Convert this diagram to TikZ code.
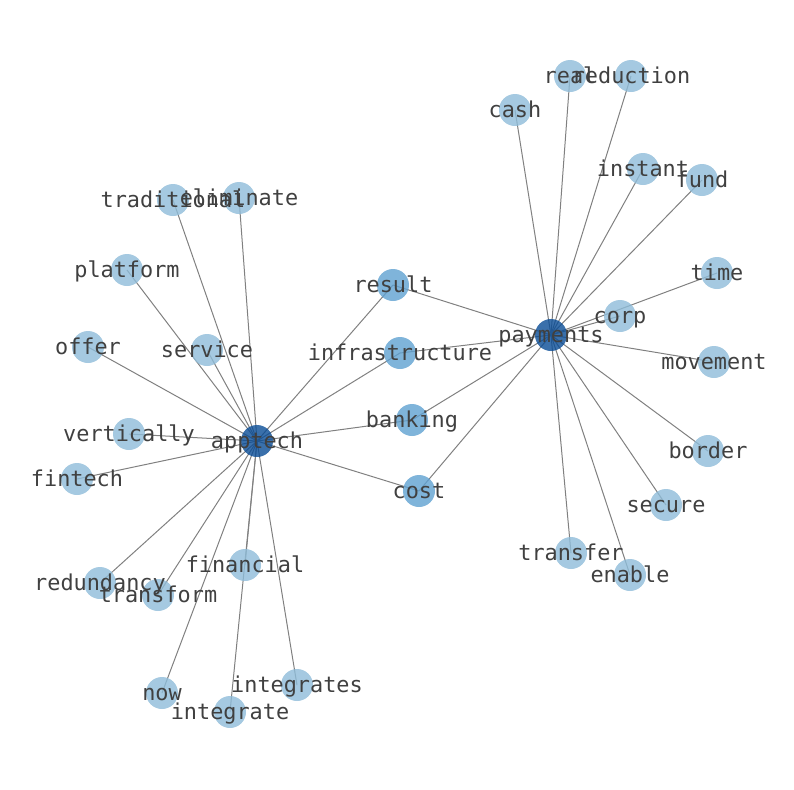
\documentclass[tikz,border=0pt]{standalone}
\usepackage{fontspec}
\setmonofont{DejaVu Sans Mono}
\usepackage{tikz}
\usetikzlibrary{backgrounds}
\tikzset{every node/.style={font=\ttfamily}}
\usepackage{xcolor}
\definecolor{leafblue}{HTML}{8EBCD9}
\definecolor{shareblue}{HTML}{5FA1D1}
\definecolor{hubblue}{HTML}{094C96}
\definecolor{linkgray}{HTML}{808080}
\definecolor{wordgray}{HTML}{404040}

\begin{document}
\begin{tikzpicture}[x=0.75pt, y=-0.75pt,
    leafdot/.style={circle, fill=leafblue, fill opacity=0.8, draw=none, minimum size=24pt, inner sep=0pt},
    sharedot/.style={leafdot, fill=shareblue},
    hubdot/.style={leafdot, fill=hubblue},
    word/.style={text=wordgray, font=\fontsize{16.4}{18}\ttfamily, inner sep=0pt, text height=13pt, text depth=1.8pt},
    link/.style={draw=linkgray, line width=0.75pt}]
  \useasboundingbox (0,0) rectangle (794,790);

  % the two hubs
  \node[hubdot] (apptech) at (257,441) {};
  \node[hubdot] (payments) at (551,335) {};

  % words that both hubs share
  \node[sharedot] (result) at (393,285) {};
  \node[sharedot] (infrastructure) at (400,353) {};
  \node[sharedot] (banking) at (412,420) {};
  \node[sharedot] (cost) at (419,491) {};

  % apptech side
  \node[leafdot] (traditional) at (173,200) {};
  \node[leafdot] (eliminate) at (239,198) {};
  \node[leafdot] (platform) at (127,270) {};
  \node[leafdot] (offer) at (88,347) {};
  \node[leafdot] (service) at (207,350) {};
  \node[leafdot] (vertically) at (129,434) {};
  \node[leafdot] (fintech) at (77,479) {};
  \node[leafdot] (redundancy) at (100,583) {};
  \node[leafdot] (transform) at (158,595) {};
  \node[leafdot] (financial) at (245,565) {};
  \node[leafdot] (now) at (162,693) {};
  \node[leafdot] (integrate) at (230,712) {};
  \node[leafdot] (integrates) at (297,685) {};

  % payments side
  \node[leafdot] (cash) at (515,110) {};
  \node[leafdot] (real) at (570,76) {};
  \node[leafdot] (reduction) at (631,76) {};
  \node[leafdot] (instant) at (643,169) {};
  \node[leafdot] (fund) at (702,180) {};
  \node[leafdot] (time) at (717,273) {};
  \node[leafdot] (corp) at (620,316) {};
  \node[leafdot] (movement) at (714,362) {};
  \node[leafdot] (border) at (708,451) {};
  \node[leafdot] (secure) at (666,505) {};
  \node[leafdot] (transfer) at (571,553) {};
  \node[leafdot] (enable) at (630,575) {};

  \begin{scope}[on background layer]
    \foreach \w in {traditional, eliminate, platform, offer, service, vertically,
        fintech, redundancy, transform, financial, now, integrate, integrates,
        result, infrastructure, banking, cost}
      \draw[link] (apptech.center) -- (\w.center);
    \foreach \w in {cash, real, reduction, instant, fund, time, corp, movement,
        border, secure, transfer, enable, result, infrastructure, banking, cost}
      \draw[link] (payments.center) -- (\w.center);
  \end{scope}

  % labels
  \foreach \w in {apptech, payments, result, infrastructure, banking, cost,
      traditional, eliminate, platform, offer, service, vertically, fintech,
      redundancy, transform, financial, now, integrate, integrates,
      cash, real, reduction, instant, fund, time, corp, movement,
      border, secure, transfer, enable}
    \node[word] (\w-txt) at (\w.center) {\w};
\end{tikzpicture}
\end{document}
